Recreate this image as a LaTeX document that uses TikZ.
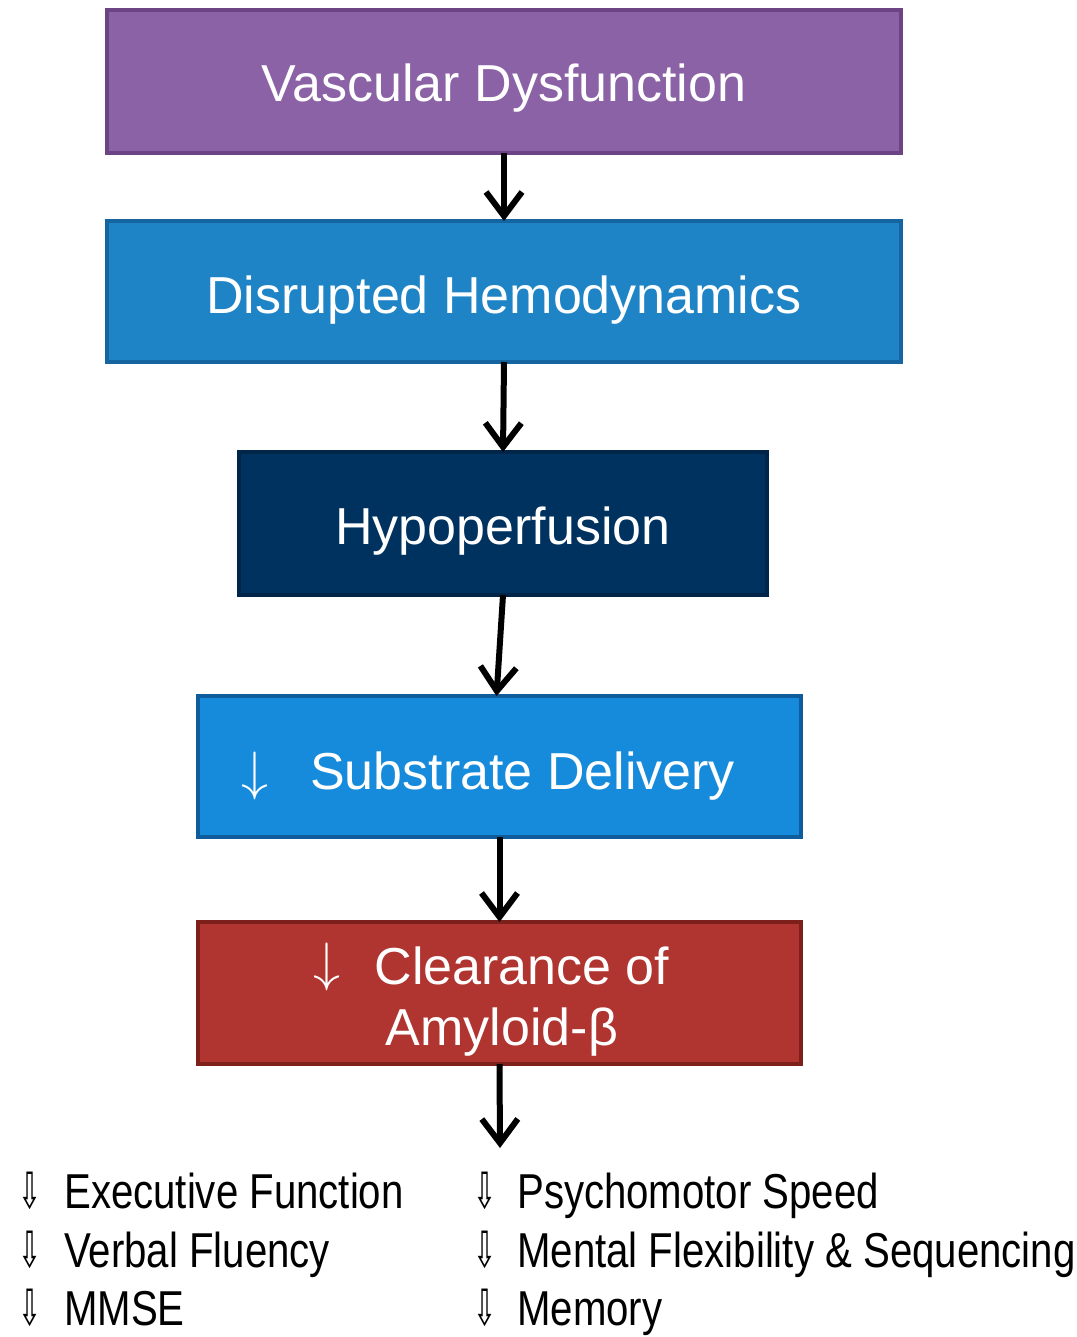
\documentclass[tikz,border=0pt]{standalone}
\usepackage{graphicx}
\usepackage{fontspec}
\setmainfont{Liberation Sans}
\newfontfamily\cond[FakeStretch=0.82]{Liberation Sans}
\newfontfamily\arrfont[FakeStretch=0.55]{DejaVu Sans}
\usetikzlibrary{arrows.meta}
\definecolor{purplefill}{HTML}{8A62A5}
\definecolor{purpleline}{HTML}{6C4485}
\definecolor{bluefill}{HTML}{1E84C6}
\definecolor{blueline}{HTML}{1565A0}
\definecolor{navyfill}{HTML}{00325F}
\definecolor{navyline}{HTML}{002548}
\definecolor{skyfill}{HTML}{178BDB}
\definecolor{skyline}{HTML}{0F5C9C}
\definecolor{redfill}{HTML}{B0342F}
\definecolor{redline}{HTML}{7D1F1B}
\newcommand{\bigdown}{\scalebox{5.4}{\fontsize{10}{12}\selectfont$\downarrow$}}
\tikzset{
  box/.style={draw, line width=4pt, inner sep=0pt, outer sep=0pt},
  boxtext/.style={text=white, font=\fontsize{52}{60}\selectfont, inner sep=0pt, anchor=base},
  downsym/.style={text=white, inner sep=0pt, anchor=base west},
  flow/.style={line width=6pt, -{Straight Barb[length=24pt,width=36pt,line width=6pt]}},
  item/.style={font=\cond\fontsize{49}{56}\selectfont, inner sep=0pt, anchor=base west},
  darr/.style={font=\arrfont\fontsize{50}{54}\selectfont, inner sep=0pt, anchor=base west}
}
\begin{document}
\begin{tikzpicture}[x=1pt,y=-1pt]
\useasboundingbox (0,0) rectangle (1076,1337);
\fill[white] (0,0) rectangle (1076,1337);
% boxes
\node[box, fill=purplefill, draw=purpleline, minimum width=794pt, minimum height=143pt] (b1) at (504,81.5) {};
\node[box, fill=bluefill, draw=blueline, minimum width=794pt, minimum height=141pt] (b2) at (504,291.5) {};
\node[box, fill=navyfill, draw=navyline, minimum width=528pt, minimum height=143pt] (b3) at (503,523.5) {};
\node[box, fill=skyfill, draw=skyline, minimum width=603pt, minimum height=141pt] (b4) at (499.5,766.5) {};
\node[box, fill=redfill, draw=redline, minimum width=603pt, minimum height=142pt] (b5) at (499.5,993) {};
% texts
\node[boxtext] (t1) at (504,102) {Vascular Dysfunction};
\node[boxtext] (t2) at (504,313) {Disrupted Hemodynamics};
\node[boxtext] (t3) at (503,544) {Hypoperfusion};
\node[downsym] (t4a) at (241,789) {\bigdown};
\node[boxtext, anchor=base west] (t4) at (310,789) {Substrate Delivery};
\node[downsym] (t5a) at (313,980) {\bigdown};
\node[boxtext] (t5) at (522,984) {Clearance of};
\node[boxtext] (t5b) at (502,1045) {Amyloid-β};
% connectors
\coordinate (end) at (500,1148);
\draw[flow] (b1.south) -- (b2.north);
\draw[flow] (b2.south) -- (b3.north);
\draw[flow] (b3.south) -- ([xshift=-3pt]b4.north);
\draw[flow] (b4.south) -- (b5.north);
\draw[flow] (b5.south) -- (end);
% outcome list
\node[darr] (a1) at (18,1208) {⇩};
\node[item] (l1) at (64,1208) {Executive Function};
\node[darr] (a2) at (18,1267) {⇩};
\node[item] (l2) at (64,1267) {Verbal Fluency};
\node[darr] (a3) at (18,1325) {⇩};
\node[item] (l3) at (64,1325) {MMSE};
\node[darr] (a4) at (473,1208) {⇩};
\node[item] (r1) at (517,1208) {Psychomotor Speed};
\node[darr] (a5) at (473,1267) {⇩};
\node[item] (r2) at (517,1267) {Mental Flexibility \& Sequencing};
\node[darr] (a6) at (473,1325) {⇩};
\node[item] (r3) at (517,1325) {Memory};
\end{tikzpicture}
\end{document}
